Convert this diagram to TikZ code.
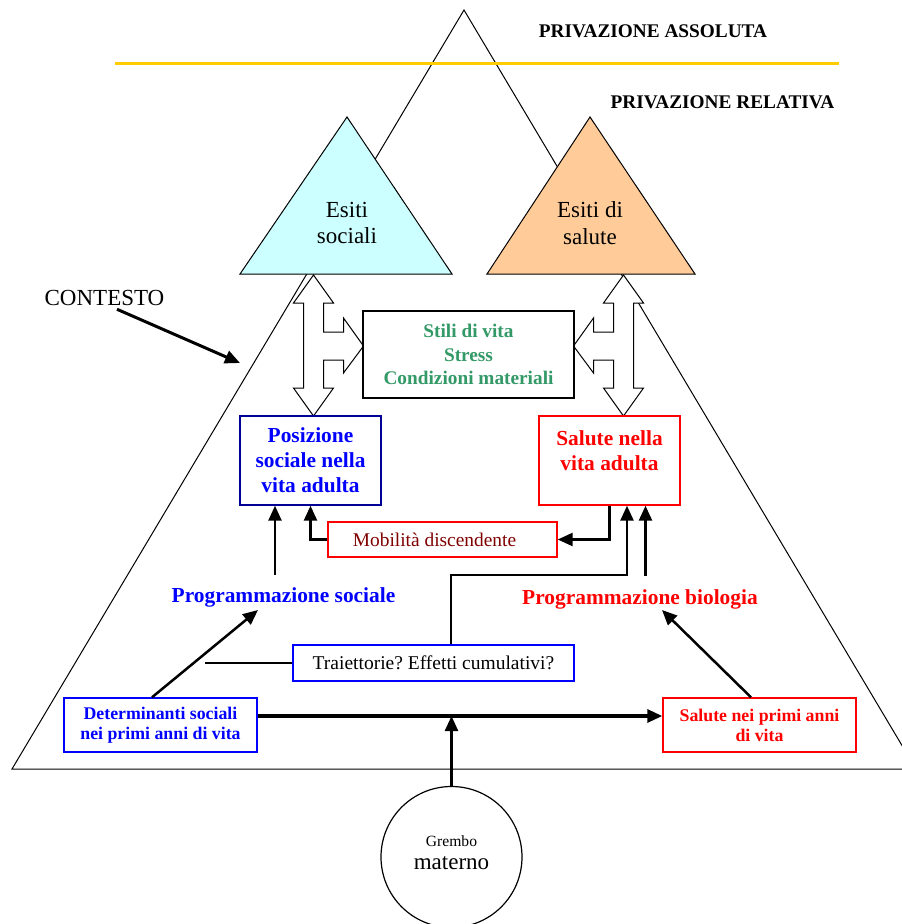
\documentclass[tikz,border=0pt]{standalone}
\usepackage{fontspec}
\setmainfont{Liberation Serif}
\usetikzlibrary{arrows.meta,positioning}
\definecolor{skyfill}{RGB}{204,255,255}
\definecolor{peachfill}{RGB}{255,204,153}
\definecolor{goldline}{RGB}{255,204,0}
\definecolor{lifegreen}{RGB}{51,153,102}
\definecolor{navyedge}{RGB}{0,0,150}
\definecolor{pureblue}{RGB}{0,0,255}
\definecolor{purered}{RGB}{255,0,0}
\definecolor{deepred}{RGB}{128,0,0}
\newcommand{\fsz}[2]{\fontsize{#1}{#2}\selectfont}
\frenchspacing

\begin{document}
\begin{tikzpicture}[
    x=1pt, y=-1pt,
    outline/.style={draw=black, line width=1pt},
    box/.style={
      rectangle, line width=1.4pt, fill=white, inner sep=0pt, align=center
    },
    bluebox/.style={box, draw=pureblue},
    redbox/.style={box, draw=purered},
    headtxt/.style={font=\fsz{19.3}{23}\bfseries},
    bigtxt/.style={align=center, font=\fsz{23}{26.7}},
    progtxt/.style={font=\fsz{21.4}{25}\bfseries},
    conn/.style={-{Triangle[length=15pt,width=13pt]}, line width=2.5pt, draw=black}
  ]
  \useasboundingbox (0,0) rectangle (902,924);

  % pyramid and deprivation levels
  \draw[outline] (464,10) -- (12,769) -- (916,769) -- cycle;
  \draw[goldline, line width=3pt] (115,63) -- (839,63);
  \node[headtxt] (absdep) at (653,31) {PRIVAZIONE ASSOLUTA};
  \node[headtxt] (reldep) at (722.5,102) {PRIVAZIONE RELATIVA};

  % outcomes
  \filldraw[outline, fill=skyfill] (347,117) -- (240,274) -- (452,274) -- cycle;
  \filldraw[outline, fill=peachfill] (590,117) -- (487,274) -- (695,274) -- cycle;
  \node[bigtxt] (socout) at (347,223) {Esiti\\sociali};
  \node[bigtxt] (healthout) at (590,223) {Esiti di\\salute};

  % block arrows
  \foreach \cx/\dir in {313.5/1, 623.5/-1}{
    \begin{scope}[shift={(\cx,0)}, xscale=\dir]
      \filldraw[outline, fill=white] (0,275) -- (20,303) -- (10,303) -- (10,332)
        -- (30,332) -- (30,318) -- (50,346) -- (30,373) -- (30,360) -- (10,360)
        -- (10,388) -- (20,388) -- (0,416) -- (-20,388) -- (-10,388)
        -- (-10,303) -- (-20,303) -- cycle;
    \end{scope}
  }

  \node[box, draw=black, minimum width=211pt, minimum height=87pt,
    font=\fsz{19.3}{23.5}\bfseries, text=lifegreen] (habits) at (468.5,354.5)
    {Stili di vita\\Stress\\Condizioni materiali};

  % adult life
  \node[box, draw=navyedge, minimum width=141pt, minimum height=89pt,
    font=\fsz{21.4}{25}\bfseries, text=pureblue] (posbox) at (310.5,460.5)
    {Posizione\\sociale nella\\vita adulta};
  \node[redbox, minimum width=141pt, minimum height=89pt] (adult) at (609.5,460.5) {};
  \node[align=center, font=\fsz{21.4}{25}\bfseries, text=purered] (adulttxt)
    at (609.5,450.5) {Salute nella\\vita adulta};
  \node[redbox, minimum width=229pt, minimum height=35pt,
    font=\fsz{19.4}{22}, text=deepred] (mobil) at (442.5,539.5)
    {Mobilità discendente\hspace*{16pt}};

  % programming
  \node[progtxt, text=pureblue] (progsoc) at (283.5,597) {Programmazione sociale};
  \node[progtxt, text=purered] (progbio) at (640,599) {Programmazione biologia};
  \node[bluebox, minimum width=281pt, minimum height=36pt,
    font=\fsz{19.5}{22}] (traj) at (433.5,663) {Traiettorie? Effetti cumulativi?};

  % early life
  \node[bluebox, minimum width=193pt, minimum height=54pt,
    font=\fsz{17.8}{20}\bfseries, text=pureblue] (det) at (160.5,725)
    {Determinanti sociali\\nei primi anni di vita};
  \node[redbox, minimum width=193pt, minimum height=54pt,
    font=\fsz{17.8}{20}\bfseries, text=purered] (early) at (759.5,725)
    {Salute nei primi anni\\di vita};
  \node[circle, draw=black, line width=1.2pt, minimum size=141pt, inner sep=0pt]
    (womb) at (451.5,857) {};
  \node[align=center, font=\fsz{23}{23}] (wombtxt) at (451.5,853)
    {{\fsz{15.6}{18}Grembo}\\materno};

  \node[bigtxt] (context) at (104.5,298) {CONTESTO};

  % connectors
  \coordinate (contexttip) at (240,363);
  \coordinate (socstart) at (275,575);
  \coordinate (cumturn) at (627,575);
  \coordinate (biostart) at (645.5,576);
  \coordinate (trajend) at (205,663);
  \coordinate (soctip) at (258,610);
  \coordinate (biotip) at (662,610);
  \coordinate (mainline) at ([yshift=9pt]det.east);

  \draw[conn, line width=3pt] ([xshift=12.5pt]context.south) -- (contexttip);
  \draw[conn] (socstart) -- (socstart |- posbox.south);
  \draw[conn] (adult.south) |- (mobil.east);
  \draw[conn] (mobil.west) -| (posbox.south);
  \draw[conn] ([xshift=17.5pt]traj.north) |- (cumturn) -- (cumturn |- adult.south);
  \draw[conn] (biostart) -- (biostart |- adult.south);
  \draw[line width=1.4pt] (traj.west) -- (trajend);
  \draw[conn] ([xshift=-8.5pt]det.north) -- (soctip);
  \draw[conn] ([xshift=-8.5pt]early.north) -- (biotip);
  \draw[conn, line width=3.2pt] (mainline) -- (mainline -| early.west);
  \draw[conn] (womb.north) -- (womb.north |- mainline);
\end{tikzpicture}
\end{document}
